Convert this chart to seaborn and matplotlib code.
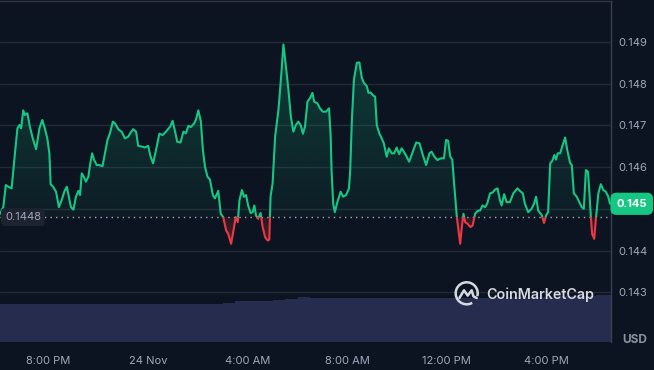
import numpy as np
import pandas as pd
import matplotlib
matplotlib.use("Agg")
import matplotlib.pyplot as plt
import matplotlib.dates as mdates
import seaborn as sns
from matplotlib.patches import Rectangle, Arc
from matplotlib.lines import Line2D
from matplotlib.path import Path
from matplotlib.colors import to_rgb
from matplotlib.transforms import IdentityTransform, blended_transform_factory

# Price trace, minutes after 23 Nov 18:00
start = pd.Timestamp("2023-11-23 18:00")
minutes = [
    3, 11, 17, 23, 31, 39, 45, 50, 54, 59, 63, 69, 75, 82, 90, 98, 105, 111, 117, 122,
    125, 131, 138, 145, 152, 158, 164, 169, 174, 180, 186, 192, 196, 200, 205, 210, 216, 220, 225, 230,
    236, 242,
    250, 256, 262, 268, 275, 280, 288, 296, 304, 312, 318, 324, 331, 336, 345, 352, 360, 366, 372, 379,
    387, 395, 403, 413, 419, 425, 430, 438, 445, 451, 457, 463, 471, 475, 481,
    487, 492, 497, 503, 509, 516, 521, 529, 535, 541, 548, 553, 560, 565, 571, 576, 580, 586, 591, 596,
    601, 607, 612, 616, 620, 625, 631, 636, 642, 648, 652, 655, 660, 666, 674, 680, 686, 692, 698, 704,
    710, 716, 722,
    728, 733, 738, 744, 750, 756, 760, 768, 774, 781, 789, 796, 800, 802, 806, 810, 816, 824, 830, 837,
    844, 847, 851, 856, 863, 869, 875, 880, 887, 891, 896, 903, 907, 911, 917, 923, 928, 935, 940, 947,
    953, 959, 965,
    971, 981, 989, 998, 1006, 1014, 1022, 1030, 1038, 1043, 1050, 1057, 1065, 1073, 1078, 1083, 1088, 1093, 1098, 1104,
    1108, 1112, 1116, 1120, 1124, 1130, 1137, 1142, 1148, 1154, 1160, 1166, 1172, 1177, 1184, 1190, 1196, 1202,
    1208, 1212, 1218, 1224, 1232, 1240, 1250, 1256, 1263, 1268, 1276, 1284, 1290, 1295, 1300, 1309, 1314, 1319, 1324, 1329,
    1334, 1339, 1343, 1347, 1353, 1359, 1365, 1370, 1377, 1381, 1386, 1393, 1399, 1405, 1410, 1415, 1420, 1423, 1427, 1430,
    1435, 1439, 1445, 1451, 1457, 1463, 1469, 1473,
]
price = [
    0.14488, 0.14504, 0.14557, 0.14553, 0.14549, 0.14633, 0.14693, 0.14701, 0.14693, 0.14736,
    0.14725, 0.14729, 0.14697, 0.14669, 0.14643, 0.14693, 0.14713, 0.14693, 0.14669, 0.14633,
    0.14559, 0.14553, 0.14541, 0.14504, 0.14522, 0.14541, 0.14553, 0.14529, 0.14504, 0.14498,
    0.14529, 0.14543, 0.14533, 0.14585, 0.14577, 0.14565, 0.14577, 0.14605, 0.14633, 0.14617,
    0.14605, 0.14605,
    0.14602, 0.14633, 0.14665, 0.14681, 0.14709, 0.14705, 0.14691, 0.14685, 0.14669, 0.14673,
    0.14683, 0.14691, 0.14685, 0.14651, 0.14649, 0.14647, 0.14651, 0.14625, 0.14609, 0.14641,
    0.14680, 0.14677, 0.14685, 0.14697, 0.14711, 0.14685, 0.14661, 0.14659, 0.14685, 0.14681,
    0.14699, 0.14696, 0.14705, 0.14713, 0.14736,
    0.14710, 0.14641, 0.14601, 0.14577, 0.14570, 0.14533, 0.14525, 0.14543, 0.14488, 0.14480,
    0.14448, 0.14440, 0.14416, 0.14444, 0.14480, 0.14468, 0.14520, 0.14545, 0.14529, 0.14533,
    0.14508, 0.14490, 0.14492, 0.14508, 0.14484, 0.14476, 0.14490, 0.14456, 0.14432, 0.14424,
    0.14426, 0.14529, 0.14561, 0.14673, 0.14737, 0.14810, 0.14894, 0.14842, 0.14786, 0.14721,
    0.14685, 0.14701, 0.14709,
    0.14700, 0.14680, 0.14697, 0.14757, 0.14765, 0.14778, 0.14757, 0.14753, 0.14741, 0.14733,
    0.14733, 0.14741, 0.14673, 0.14593, 0.14512, 0.14492, 0.14516, 0.14541, 0.14529, 0.14533,
    0.14549, 0.14593, 0.14713, 0.14810, 0.14850, 0.14851, 0.14814, 0.14802, 0.14794, 0.14778,
    0.14779, 0.14771, 0.14769, 0.14701, 0.14681, 0.14669, 0.14657, 0.14625, 0.14645, 0.14633,
    0.14633, 0.14647, 0.14631,
    0.14645, 0.14629, 0.14613, 0.14637, 0.14659, 0.14657, 0.14629, 0.14605, 0.14633, 0.14637,
    0.14625, 0.14617, 0.14621, 0.14621, 0.14665, 0.14663, 0.14625, 0.14618, 0.14553, 0.14480,
    0.14448, 0.14416, 0.14456, 0.14488, 0.14468, 0.14464, 0.14456, 0.14460, 0.14488, 0.14495,
    0.14496, 0.14508, 0.14504, 0.14512, 0.14537, 0.14539, 0.14546, 0.14549,
    0.14520, 0.14508, 0.14535, 0.14516, 0.14516, 0.14537, 0.14549, 0.14543, 0.14537, 0.14512,
    0.14492, 0.14500, 0.14512, 0.14529, 0.14496, 0.14484, 0.14466, 0.14484, 0.14492, 0.14609,
    0.14615, 0.14629, 0.14618, 0.14633, 0.14633, 0.14653, 0.14671, 0.14641, 0.14610, 0.14605,
    0.14537, 0.14529, 0.14516, 0.14504, 0.14500, 0.14593, 0.14589, 0.14545, 0.14480, 0.14440,
    0.14428, 0.14474, 0.14537, 0.14559, 0.14545, 0.14541, 0.14529, 0.14512,
]
baseline = 0.1448

# 30-minute volume bars (relative units)
vol_minutes = np.arange(0, 1500, 30)
volume = [
    37.8, 37.8, 37.9, 38.0, 37.8, 37.9, 38.0, 38.0, 37.9, 38.0,
    37.9, 38.0, 38.1, 38.0, 38.1, 38.2, 38.1, 38.3, 39.2, 40.6,
    40.8, 40.6, 41.8, 43.0, 45.0, 44.2, 44.0, 44.0, 43.8, 43.9,
    43.8, 43.7, 43.8, 43.6, 43.7, 43.7, 43.6, 43.6, 43.7, 44.0,
    44.3, 44.6, 44.8, 45.0, 45.3, 45.6, 45.8, 46.5, 47.0, 47.4,
]

tick_times = ["2023-11-23 20:00", "2023-11-24 00:00", "2023-11-24 04:00",
              "2023-11-24 08:00", "2023-11-24 12:00", "2023-11-24 16:00"]
tick_labels = ["8:00 PM", "24 Nov", "4:00 AM", "8:00 AM", "12:00 PM", "4:00 PM"]
ytick_values = [0.143, 0.144, 0.145, 0.146, 0.147, 0.148, 0.149]
# 0.145 sits under the current-price tag, so its plain label is left blank
ytick_labels = ["0.143", "0.144", "", "0.146", "0.147", "0.148", "0.149"]

bg = "#0d1421"
green = "#16c784"
red = "#ea3943"
muted = "#a1a7bb"

df = pd.DataFrame({"time": start + pd.to_timedelta(minutes, unit="min"), "price": price})
df["t"] = mdates.date2num(df["time"])
vol_t = mdates.date2num(start + pd.to_timedelta(vol_minutes, unit="min"))

x0 = mdates.date2num(start + pd.Timedelta(minutes=3))
x1 = mdates.date2num(start + pd.Timedelta(minutes=1475.5))
ylo, yhi = 0.141806, 0.149983

sns.set_theme(style="dark")
plt.rcParams["font.family"] = ["Inter", "DejaVu Sans"]

fig = plt.figure(figsize=(6.54, 3.70), dpi=100, facecolor=bg)
pos = [0, 28 / 370, 611 / 654, 341 / 370]

# volume underneath
axv = fig.add_axes(pos, zorder=0)
axv.set_facecolor(bg)
axv.bar(vol_t, volume, width=30 / 1440, align="edge", color="#262c4e", linewidth=0)
axv.set_xlim(x0, x1)
axv.set_ylim(0, 341)
axv.set_xticks([])
axv.set_yticks([])
for s in axv.spines.values():
    s.set_visible(False)

# price on top
ax = fig.add_axes(pos, zorder=1)
ax.set_facecolor("none")

fill = ax.fill_between(df["t"], df["price"], baseline, color="none", lw=0)
clip = Path.make_compound_path(*fill.get_paths())

up_rgba = np.zeros((256, 1, 4))
up_rgba[..., :3] = to_rgb(green)
up_rgba[..., 3] = np.linspace(0.05, 0.24, 256)[:, None]
im_up = ax.imshow(up_rgba, extent=[x0, x1, baseline, max(price)], origin="lower",
                  aspect="auto", interpolation="bilinear", zorder=1)
im_up.set_clip_path(clip, ax.transData)

dn_rgba = np.zeros((256, 1, 4))
dn_rgba[..., :3] = to_rgb(red)
dn_rgba[..., 3] = np.linspace(0.3, 0.12, 256)[:, None]
im_dn = ax.imshow(dn_rgba, extent=[x0, x1, min(price), baseline], origin="lower",
                  aspect="auto", interpolation="bilinear", zorder=1)
im_dn.set_clip_path(clip, ax.transData)

sns.lineplot(x=df["t"], y=df["price"], ax=ax, color=green, lw=1.5, zorder=3)
up_line = ax.lines[-1]
sns.lineplot(x=df["t"], y=df["price"], ax=ax, color=red, lw=1.5, zorder=3)
dn_line = ax.lines[-1]
up_line.set_clip_path(Rectangle((x0 - 1, baseline), x1 - x0 + 2, 1, transform=ax.transData))
dn_line.set_clip_path(Rectangle((x0 - 1, baseline - 1), x1 - x0 + 2, 1, transform=ax.transData))

ax.axhline(baseline, color=muted, lw=1, ls=(0, (1, 3)), zorder=2)

ax.set_xlim(x0, x1)
ax.set_ylim(ylo, yhi)
ax.set_xlabel("")
ax.set_ylabel("")

ax.set_yticks(ytick_values)
ax.set_yticklabels(ytick_labels)
ax.yaxis.tick_right()
ax.set_xticks(mdates.date2num(pd.to_datetime(tick_times)))
ax.set_xticklabels(tick_labels)
ax.tick_params(axis="y", length=0, pad=5, labelsize=8, labelcolor=muted)
ax.tick_params(axis="x", length=0, pad=10, labelsize=8, labelcolor=muted)
ax.grid(axis="y", color="#232a37", lw=1)
ax.grid(axis="x", visible=False)

ax.spines["left"].set_visible(False)
ax.spines["bottom"].set_visible(False)
ax.spines["right"].set_color("#3b4150")
ax.spines["right"].set_linewidth(1)
ax.spines["top"].set_color("#313745")
ax.spines["top"].set_linewidth(1)

blend = blended_transform_factory(ax.transAxes, ax.transData)
ax.text(0.008, baseline, "0.1448", transform=blend, ha="left", va="center",
        fontsize=8, color=muted, zorder=5,
        bbox=dict(boxstyle="round,pad=0.35", fc="#1e2330", ec="none"))
ax.text(1.009, price[-1], "0.145", transform=blend, ha="left", va="center",
        fontsize=8, color="white", weight="bold", zorder=6, clip_on=False,
        bbox=dict(boxstyle="round,pad=0.55", fc=green, ec="none"))

fig.text(635 / 654, 1 - 340 / 370, "USD", ha="center", va="center",
         fontsize=8.5, weight="bold", color="#8a91a1")

# watermark
wm = "#d6d9e0"
fig.text(486 / 654, 1 - 295 / 370, "CoinMarketCap", ha="left", va="center",
         fontsize=10.3, weight="semibold", color=wm, zorder=10)
cx, cy = 466.7, 370 - 293.3
fig.add_artist(Arc((cx, cy), 22, 22, theta1=-15, theta2=300, transform=IdentityTransform(),
                   color=wm, lw=1.8, zorder=10))
zx = [-7.3, -2.7, 1.0, 5.0, 6.7, 10.0]
zy = [-4.7, 3.0, -2.3, 3.0, -3.0, -4.7]
fig.add_artist(Line2D([cx + a for a in zx], [cy + b for b in zy], transform=IdentityTransform(),
                      color=wm, lw=1.8, solid_joinstyle="round", solid_capstyle="round", zorder=10))

fig.savefig("out.png", dpi=100, facecolor=bg)
